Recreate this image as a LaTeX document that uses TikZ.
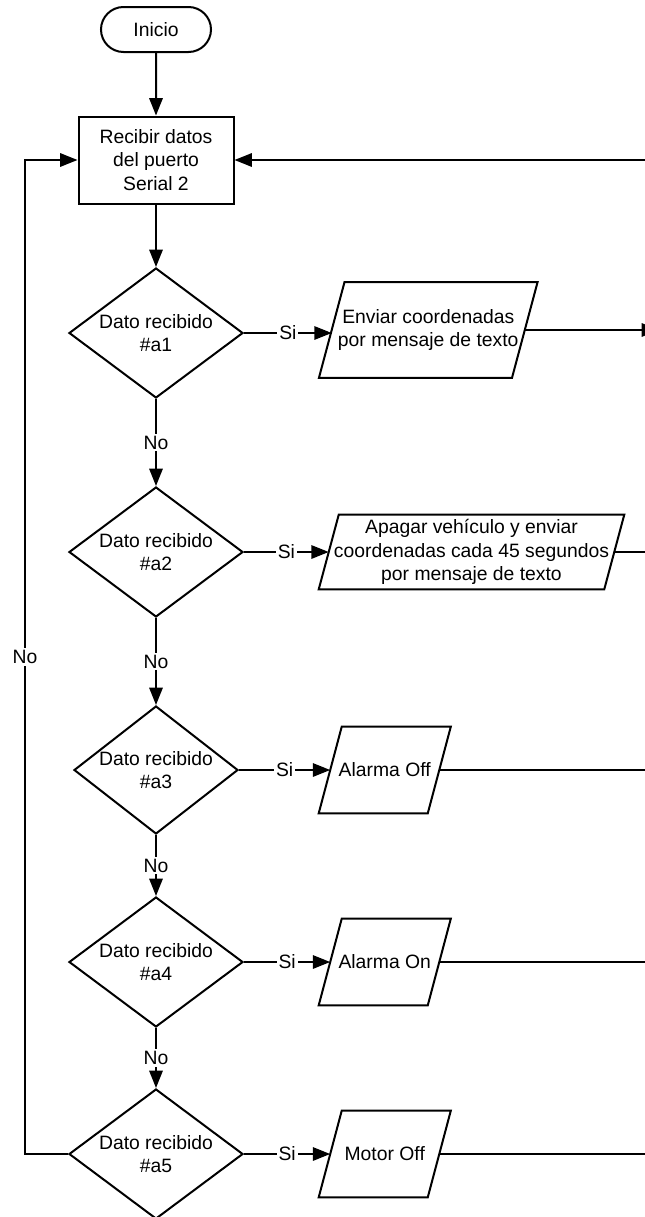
\documentclass[tikz,border=0pt]{standalone}
\usepackage{fontspec}
\setmainfont{Liberation Sans}
\usetikzlibrary{arrows.meta,shapes.geometric,shapes.misc,calc}

\tikzset{
  flow/.style={line width=1.5pt, line join=miter},
  arr/.style={flow, -{Triangle[length=13pt,width=10pt]}},
  txt/.style={font=\fontsize{14.5pt}{17.5pt}\selectfont, align=center},
  startstop/.style={txt, draw, line width=1.5pt, rounded rectangle,
    minimum width=82.5pt, minimum height=33.75pt, inner sep=0pt},
  process/.style={txt, draw, line width=1.5pt, rectangle,
    minimum width=116.25pt, minimum height=65.25pt, inner sep=0pt},
  decision/.style={txt, draw, line width=1.5pt, diamond, aspect=1.34, inner sep=0pt,
    minimum width=130.5pt, minimum height=97.5pt},
  iobody/.style={txt, inner sep=0pt},
  lbl/.style={txt, fill=white, inner sep=1.5pt},
}

% slanted input/output box drawn around a rectangular body node
\newcommand\ioshape[2]{%
  \draw[flow] ($(#1.south west)+(-#2,0)$) -- ($(#1.north west)+(#2,0)$)
    -- ($(#1.north east)+(#2,0)$) -- ($(#1.south east)+(-#2,0)$) -- cycle;}

\begin{document}
\begin{tikzpicture}[x=0.75pt, y=-0.75pt]
  \useasboundingbox (0,0) rectangle (645,1217);
  \clip (0,0) rectangle (645,1217);

  % main column
  \node[startstop] (start) at (156,29.5) {Inicio};
  \node[process] (recv) at (156,160) {Recibir datos\\del puerto\\Serial 2};
  \node[decision] (d1) at (156,333) {Dato recibido\\\#a1};
  \node[decision] (d2) at (156,552) {Dato recibido\\\#a2};
  \node[decision, aspect=1.28, minimum width=123pt, minimum height=96pt] (d3) at (156,770) {Dato recibido\\\#a3};
  \node[decision] (d4) at (156,962) {Dato recibido\\\#a4};
  \node[decision] (d5) at (156,1154) {Dato recibido\\\#a5};

  % actions
  \node[iobody, minimum width=144.4pt, minimum height=71.25pt] (p1) at (428.25,330)
    {Enviar coordenadas\\por mensaje de texto};
  \node[iobody, minimum width=213.75pt, minimum height=55.5pt] (p2) at (471.5,552)
    {Apagar vehículo y enviar\\coordenadas cada 45 segundos\\por mensaje de texto};
  \node[iobody, minimum width=81.4pt, minimum height=64.5pt] (p3) at (384.75,770) {Alarma Off};
  \node[iobody, minimum width=81.4pt, minimum height=64.5pt] (p4) at (384.75,962) {Alarma On};
  \node[iobody, minimum width=81.4pt, minimum height=64.5pt] (p5) at (384.75,1154) {Motor Off};
  \ioshape{p1}{12.75}
  \ioshape{p2}{10}
  \ioshape{p3}{11.5}
  \ioshape{p4}{11.5}
  \ioshape{p5}{11.5}

  % loose ends at the right border and the left return path
  \coordinate (ret) at (650,160);
  \coordinate (e1) at (659,330);
  \coordinate (e2) at (650,552);
  \coordinate (e3) at (650,770);
  \coordinate (e4) at (650,962);
  \coordinate (e5) at (650,1154);
  \coordinate (lb) at (25,1154);
  \coordinate (lt) at (25,160);

  % flow
  \draw[arr] (start) -- (recv);
  \draw[arr] (recv) -- (d1);
  \draw[arr] (d1) -- node[lbl]{No} (d2);
  \draw[arr] (d2) -- node[lbl]{No} (d3);
  \draw[arr] (d3) -- node[lbl]{No} (d4);
  \draw[arr] (d4) -- node[lbl]{No} (d5);

  \draw[arr] (d1.east) -- node[lbl]{Si} (d1.east -| p1.west);
  \draw[arr] (d2.east) -- node[lbl]{Si} (d2.east -| p2.west);
  \draw[arr] (d3.east) -- node[lbl]{Si} (d3.east -| p3.west);
  \draw[arr] (d4.east) -- node[lbl]{Si} (d4.east -| p4.west);
  \draw[arr] (d5.east) -- node[lbl]{Si} (d5.east -| p5.west);

  \draw[arr] (p1.east) -- (e1);
  \draw[flow] (p2.east) -- (e2);
  \draw[flow] (p3.east) -- (e3);
  \draw[flow] (p4.east) -- (e4);
  \draw[flow] (p5.east) -- (e5);

  \draw[arr] (ret) -- (recv.east);
  \draw[arr] (d5.west) -- (lb) -- node[lbl]{No} (lt) -- (recv.west);
\end{tikzpicture}
\end{document}
